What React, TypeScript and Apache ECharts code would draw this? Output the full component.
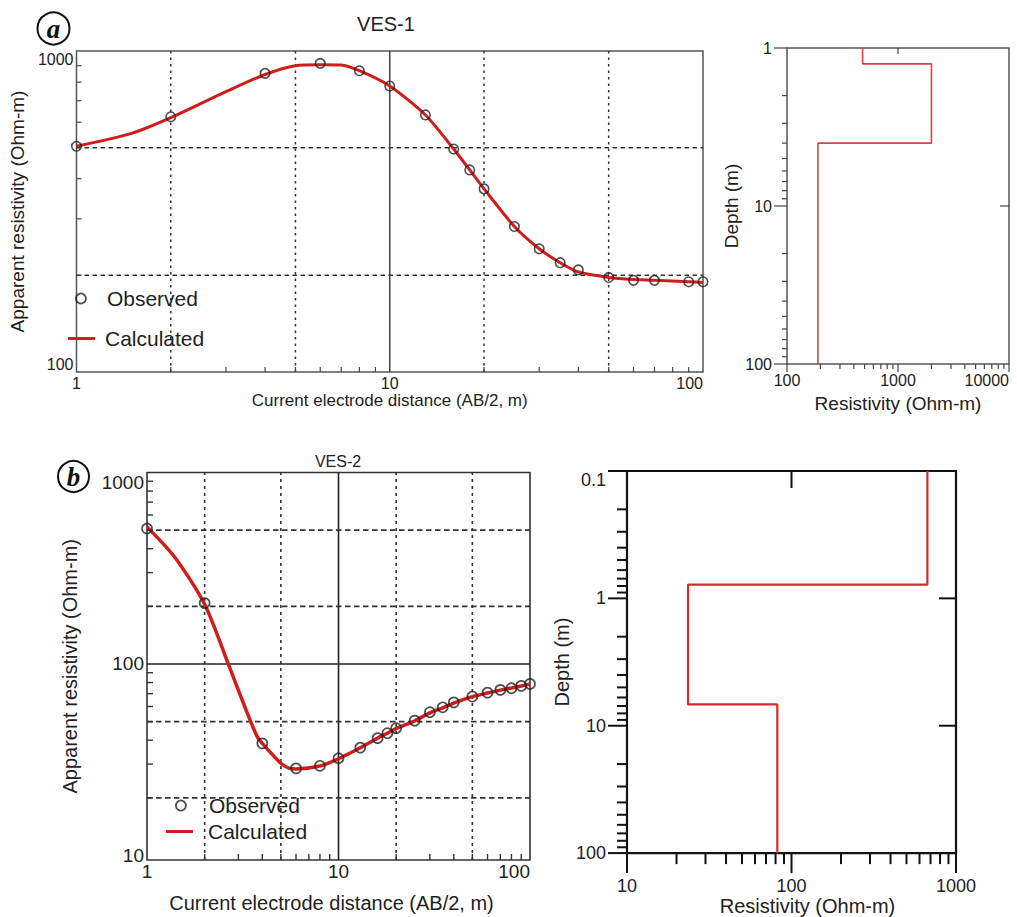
import React, { useEffect, useRef } from 'react';
import * as echarts from 'echarts';

// ---------- VES-1 (panel a) ----------
const ves1ObsAB2 = [1, 2, 4, 6, 8, 10, 13, 16, 18, 20, 25, 30, 35, 40, 50, 60, 70, 90, 100];
const ves1ObsRho = [505, 624, 852, 915, 868, 778, 632, 495, 426, 372, 284, 242, 219, 208, 197, 193, 193, 191, 191];
const ves1CalcAB2 = [1, 1.5, 2, 3, 4, 5, 6, 7, 8, 10, 13, 16, 18, 20, 25, 30, 35, 40, 50, 60, 70, 90, 100];
const ves1CalcRho = [505, 554, 620, 747, 845, 900, 906, 905, 868, 778, 632, 495, 426, 372, 284, 242, 219, 205, 197, 194, 193, 191, 190];
const ves1LayerRho = [480, 2000, 190];
const ves1LayerBottom = [1.26, 4];
const ves1DepthRange = [1, 100];
const ves1ResRange = [100, 10000];
const ves1AB2Range = [1, 100];
const ves1RhoRange = [100, 1000];
const ves1GridX = [2, 5, 20, 50];
const ves1GridXSolid = [10];
const ves1GridY = [200, 500];
const ves1MinorX = [2, 3, 4, 5, 6, 7, 8, 9, 20, 30, 40, 50, 60, 70, 80, 90];
const ves1MinorY = [200, 300, 400, 500, 600, 700, 800, 900];
const mod1MajorY = [1, 10, 100];
const mod1MinorY = [2, 3, 4, 5, 6, 7, 8, 9, 20, 30, 40, 50, 60, 70, 80, 90];
const mod1MajorX = [100, 1000, 10000];
const mod1MinorX = [200, 300, 400, 500, 600, 700, 800, 900, 2000, 3000, 4000, 5000, 6000, 7000, 8000, 9000];
const mod1TopTicks = [1000];
const mod1RightTicks = [10];

// ---------- VES-2 (panel b) ----------
const ves2ObsAB2 = [1, 2, 4, 6, 8, 10, 13, 16, 18, 20, 25, 30, 35, 40, 50, 60, 70, 80, 90, 100];
const ves2ObsRho = [510, 208, 38.5, 28.5, 29.4, 32.2, 36.6, 41, 43.5, 46.2, 50.6, 56, 59.4, 63, 67.6, 70.9, 73.2, 74.7, 76.8, 78.7];
const ves2CalcAB2 = [1, 1.4, 2, 2.7, 3.3, 3.75, 4, 5, 5.5, 6, 8, 10, 13, 16, 18, 20, 25, 30, 35, 40, 50, 60, 70, 80, 90, 100];
const ves2CalcRho = [520, 360, 205, 96, 57, 42, 38.5, 30.3, 28.6, 28.3, 29.3, 32, 36.5, 41, 43.5, 46, 50.5, 55.5, 59, 62.5, 67.5, 70.5, 73, 75, 76.8, 78.5];
const ves2LayerRho = [670, 23.5, 82];
const ves2LayerBottom = [0.78, 6.8];
const ves2DepthRange = [0.1, 100];
const ves2ResRange = [10, 1000];
const ves2AB2Range = [1, 100];
const ves2RhoRange = [9.47, 1000];
const ves2GridX = [2, 5, 20, 50];
const ves2GridXSolid = [10];
const ves2GridY = [20, 50, 200, 500];
const ves2GridYSolid = [100];
const ves2MinorX = [2, 3, 4, 5, 6, 7, 8, 9, 20, 30, 40, 50, 60, 70, 80, 90];
const ves2MinorY = [20, 30, 40, 50, 60, 70, 80, 90, 200, 300, 400, 500, 600, 700, 800, 900];
const mod2MajorY = [0.1, 1, 10, 100];
const mod2MinorY = [0.2, 0.3, 0.4, 0.5, 0.6, 0.7, 0.8, 0.9, 2, 3, 4, 5, 6, 7, 8, 9, 20, 30, 40, 50, 60, 70, 80, 90];
const mod2MajorX = [10, 100, 1000];
const mod2MinorX = [20, 30, 40, 50, 60, 70, 80, 90, 200, 300, 400, 500, 600, 700, 800, 900];
const mod2TopTicks = [100];
const mod2RightTicks = [1, 10];

const FONT = '"Liberation Sans", Arial, Helvetica, sans-serif';
const RED = '#d01c1c';

const zip = (xs: number[], ys: number[]) => xs.map((x, i) => [x, ys[i]]);

const pow10Label = (v: number) => {
  const l = Math.log10(v);
  const r = Math.round(l);
  if (Math.abs(l - r) > 1e-6) return '';
  return r < 0 ? Math.pow(10, r).toFixed(-r) : String(Math.round(Math.pow(10, r)));
};

function layerPath(rho: number[], bottoms: number[], range: number[]) {
  const tops = [range[0], ...bottoms];
  const bots = [...bottoms, range[1]];
  const pts: number[][] = [];
  rho.forEach((r, i) => {
    pts.push([r, tops[i]], [r, bots[i]]);
  });
  return pts;
}

function logAxis(o: any) {
  return {
    type: 'log',
    logBase: 10,
    gridIndex: o.grid,
    min: o.min,
    max: o.max,
    inverse: !!o.inverse,
    name: o.name,
    nameLocation: 'middle',
    nameGap: o.nameGap,
    nameTextStyle: { fontSize: o.nameSize, color: '#222', fontFamily: FONT, padding: o.namePadding || 0 },
    axisLine: { show: false },
    axisTick: { show: false },
    splitLine: { show: false },
    minorTick: { show: false },
    minorSplitLine: { show: false },
    axisLabel: {
      show: true,
      margin: o.margin,
      fontSize: o.labelSize,
      color: '#222',
      fontFamily: FONT,
      formatter: pow10Label,
      ...(o.labelExtra || {}),
    },
  };
}

function tickSeries(idx: number, pts: number[][], dx: number, dy: number, color: string, width: number) {
  return {
    type: 'custom',
    xAxisIndex: idx,
    yAxisIndex: idx,
    silent: true,
    z: 6,
    clip: false,
    data: pts,
    renderItem: (_p: any, api: any) => {
      const c = api.coord([api.value(0), api.value(1)]);
      return {
        type: 'line',
        shape: { x1: c[0], y1: c[1], x2: c[0] + dx, y2: c[1] + dy },
        style: { stroke: color, lineWidth: width },
      };
    },
  };
}

function vGrid(idx: number, xs: number[], yRange: number[], color: string, width: number, dash: number[] | null) {
  return {
    type: 'custom',
    xAxisIndex: idx,
    yAxisIndex: idx,
    silent: true,
    z: 1,
    data: xs.map((x) => [x, yRange[0]]),
    renderItem: (_p: any, api: any) => {
      const x = api.value(0);
      const a = api.coord([x, yRange[0]]);
      const b = api.coord([x, yRange[1]]);
      return {
        type: 'line',
        shape: { x1: a[0], y1: a[1], x2: b[0], y2: b[1] },
        style: { stroke: color, lineWidth: width, lineDash: dash || undefined },
      };
    },
  };
}

function hGrid(idx: number, ys: number[], xRange: number[], color: string, width: number, dash: number[] | null) {
  return {
    type: 'custom',
    xAxisIndex: idx,
    yAxisIndex: idx,
    silent: true,
    z: 1,
    data: ys.map((y) => [xRange[0], y]),
    renderItem: (_p: any, api: any) => {
      const y = api.value(1);
      const a = api.coord([xRange[0], y]);
      const b = api.coord([xRange[1], y]);
      return {
        type: 'line',
        shape: { x1: a[0], y1: a[1], x2: b[0], y2: b[1] },
        style: { stroke: color, lineWidth: width, lineDash: dash || undefined },
      };
    },
  };
}

function buildOption() {
  const legendObs = (left: number, top: number, pad: number) => ({
    left,
    top,
    padding: 0,
    orient: 'vertical',
    selectedMode: false,
    itemWidth: 10,
    itemHeight: 10,
    textStyle: { fontSize: 21, color: '#222', fontFamily: FONT, padding: [0, 0, 0, pad] },
    data: [{ name: 'Observed', icon: 'circle', itemStyle: { color: 'rgba(0,0,0,0)', borderColor: '#222', borderWidth: 1.8 } }],
  });
  const legendCalc = (left: number, top: number, pad: number) => ({
    left,
    top,
    padding: 0,
    orient: 'vertical',
    selectedMode: false,
    itemWidth: 27,
    itemHeight: 3,
    textStyle: { fontSize: 21, color: '#222', fontFamily: FONT, padding: [0, 0, 0, pad] },
    data: [{ name: 'Calculated', icon: 'rect', itemStyle: { color: RED, borderWidth: 0 } }],
  });

  return {
    animation: false,
    backgroundColor: '#ffffff',
    textStyle: { fontFamily: FONT },
    title: [
      { text: 'VES-1', left: 386, top: 14, textAlign: 'center', padding: 0, textStyle: { fontSize: 20, fontWeight: 'normal', color: '#222', fontFamily: FONT } },
      { text: 'VES-2', left: 338, top: 453, textAlign: 'center', padding: 0, textStyle: { fontSize: 16, fontWeight: 'normal', color: '#222', fontFamily: FONT } },
    ],
    legend: [legendObs(75, 288, 16), legendCalc(68, 328, 5), legendObs(175, 795, 18), legendCalc(166, 821, 10)],
    grid: [
      { left: 60, top: 51, width: 643, height: 321, show: true, borderColor: '#555', borderWidth: 1.5, backgroundColor: 'transparent' },
      { left: 787, top: 48, width: 222, height: 316, show: true, borderColor: '#555', borderWidth: 1.5, backgroundColor: 'transparent' },
      { left: 147, top: 472.5, width: 383, height: 387.5, show: true, borderColor: '#333', borderWidth: 1.6, backgroundColor: 'transparent' },
      { left: 627, top: 471, width: 329, height: 386, show: true, borderColor: '#111', borderWidth: 2.2, backgroundColor: 'transparent' },
    ],
    xAxis: [
      logAxis({ grid: 0, min: ves1AB2Range[0], max: ves1AB2Range[1], name: 'Current electrode distance (AB/2, m)', nameGap: 17, nameSize: 17, margin: 3, labelSize: 16, labelExtra: { alignMaxLabel: 'right' } }),
      logAxis({ grid: 1, min: ves1ResRange[0], max: ves1ResRange[1], name: 'Resistivity (Ohm-m)', nameGap: 30, nameSize: 19, margin: 8, labelSize: 16, labelExtra: { alignMaxLabel: 'right' } }),
      logAxis({ grid: 2, min: ves2AB2Range[0], max: ves2AB2Range[1], name: 'Current electrode distance (AB/2, m)', nameGap: 33, nameSize: 20, namePadding: [0, 14, 0, 0], margin: 2, labelSize: 19, labelExtra: { alignMaxLabel: 'right' } }),
      logAxis({ grid: 3, min: ves2ResRange[0], max: ves2ResRange[1], name: 'Resistivity (Ohm-m)', nameGap: 42, nameSize: 20, namePadding: [0, 0, 0, 32], margin: 24, labelSize: 18 }),
    ],
    yAxis: [
      logAxis({ grid: 0, min: ves1RhoRange[0], max: ves1RhoRange[1], name: 'Apparent resistivity (Ohm-m)', nameGap: 29, nameSize: 19, margin: 3, labelSize: 16, labelExtra: { verticalAlignMaxLabel: 'top', verticalAlignMinLabel: 'bottom' } }),
      logAxis({ grid: 1, min: ves1DepthRange[0], max: ves1DepthRange[1], inverse: true, name: 'Depth (m)', nameGap: 35, nameSize: 19, margin: 15, labelSize: 16 }),
      logAxis({ grid: 2, min: ves2RhoRange[0], max: ves2RhoRange[1], name: 'Apparent resistivity (Ohm-m)', nameGap: 67, nameSize: 20, margin: 3, labelSize: 19, labelExtra: { verticalAlignMaxLabel: 'top' } }),
      logAxis({ grid: 3, min: ves2DepthRange[0], max: ves2DepthRange[1], inverse: true, name: 'Depth (m)', nameGap: 52, nameSize: 20, margin: 21, labelSize: 18, labelExtra: { verticalAlignMinLabel: 'top' } }),
    ],
    graphic: [
      { type: 'circle', shape: { cx: 53.5, cy: 28.5, r: 16 }, style: { fill: 'none', stroke: '#111', lineWidth: 2 } },
      { type: 'text', x: 53.5, y: 29, style: { text: 'a', font: 'italic bold 27px "Liberation Serif", "DejaVu Serif", serif', fill: '#111', align: 'center', verticalAlign: 'middle', textAlign: 'center', textVerticalAlign: 'middle' } },
      { type: 'circle', shape: { cx: 73.5, cy: 476.5, r: 15.5 }, style: { fill: 'none', stroke: '#111', lineWidth: 2 } },
      { type: 'text', x: 73.5, y: 476.5, style: { text: 'b', font: 'italic bold 27px "Liberation Serif", "DejaVu Serif", serif', fill: '#111', align: 'center', verticalAlign: 'middle', textAlign: 'center', textVerticalAlign: 'middle' } },
    ],
    series: [
      // ----- panel a -----
      vGrid(0, ves1GridX, ves1RhoRange, '#333', 1.5, [2.5, 4]),
      vGrid(0, ves1GridXSolid, ves1RhoRange, '#444', 1.5, null),
      hGrid(0, ves1GridY, ves1AB2Range, '#333', 1.5, [4.5, 3.5]),
      tickSeries(0, ves1MinorX.map((v) => [v, ves1RhoRange[0]]), 0, -5, '#444', 1.2),
      tickSeries(0, ves1MinorY.map((v) => [ves1AB2Range[0], v]), 5, 0, '#444', 1.2),
      {
        name: 'Calculated',
        type: 'line',
        xAxisIndex: 0,
        yAxisIndex: 0,
        data: zip(ves1CalcAB2, ves1CalcRho),
        showSymbol: false,
        symbol: 'none',
        smooth: 0.25,
        z: 3,
        itemStyle: { color: RED },
        lineStyle: { color: RED, width: 3 },
      },
      {
        name: 'Observed',
        type: 'scatter',
        xAxisIndex: 0,
        yAxisIndex: 0,
        data: zip(ves1ObsAB2, ves1ObsRho),
        symbol: 'circle',
        symbolSize: 9.5,
        z: 4,
        itemStyle: { color: 'rgba(0,0,0,0)', borderColor: '#222', borderWidth: 1.6 },
      },
      // ----- panel a model -----
      tickSeries(1, mod1MajorY.map((v) => [ves1ResRange[0], v]), -13, 0, '#444', 1.2),
      tickSeries(1, mod1MinorY.map((v) => [ves1ResRange[0], v]), -5, 0, '#444', 1.2),
      tickSeries(1, mod1MajorX.map((v) => [v, ves1DepthRange[1]]), 0, 8, '#444', 1.2),
      tickSeries(1, mod1MinorX.map((v) => [v, ves1DepthRange[1]]), 0, 5, '#444', 1.2),
      tickSeries(1, mod1TopTicks.map((v) => [v, ves1DepthRange[0]]), 0, 6, '#444', 1.2),
      tickSeries(1, mod1RightTicks.map((v) => [ves1ResRange[1], v]), -9, 0, '#444', 1.2),
      {
        type: 'line',
        xAxisIndex: 1,
        yAxisIndex: 1,
        data: layerPath(ves1LayerRho, ves1LayerBottom, ves1DepthRange),
        showSymbol: false,
        symbol: 'none',
        z: 3,
        lineStyle: { color: '#d64545', width: 1.6 },
        itemStyle: { color: '#d64545' },
      },
      // ----- panel b -----
      vGrid(2, ves2GridX, ves2RhoRange, '#333', 1.6, [3, 4]),
      vGrid(2, ves2GridXSolid, ves2RhoRange, '#222', 1.6, null),
      hGrid(2, ves2GridY, ves2AB2Range, '#333', 1.6, [5.5, 3.5]),
      hGrid(2, ves2GridYSolid, ves2AB2Range, '#222', 1.6, null),
      tickSeries(2, ves2MinorX.map((v) => [v, ves2RhoRange[0]]), 0, -6, '#333', 1.4),
      tickSeries(2, ves2MinorY.map((v) => [ves2AB2Range[0], v]), 6, 0, '#333', 1.4),
      {
        name: 'Calculated',
        type: 'line',
        xAxisIndex: 2,
        yAxisIndex: 2,
        data: zip(ves2CalcAB2, ves2CalcRho),
        showSymbol: false,
        symbol: 'none',
        smooth: 0.25,
        z: 3,
        itemStyle: { color: RED },
        lineStyle: { color: RED, width: 3.5 },
      },
      {
        name: 'Observed',
        type: 'scatter',
        xAxisIndex: 2,
        yAxisIndex: 2,
        data: zip(ves2ObsAB2, ves2ObsRho),
        symbol: 'circle',
        symbolSize: 10,
        z: 4,
        itemStyle: { color: 'rgba(0,0,0,0)', borderColor: '#222', borderWidth: 1.7 },
      },
      // ----- panel b model -----
      tickSeries(3, mod2MajorY.map((v) => [ves2ResRange[0], v]), -19, 0, '#111', 2),
      tickSeries(3, mod2MinorY.map((v) => [ves2ResRange[0], v]), -10, 0, '#111', 2),
      tickSeries(3, mod2MajorX.map((v) => [v, ves2DepthRange[1]]), 0, 20, '#111', 2),
      tickSeries(3, mod2MinorX.map((v) => [v, ves2DepthRange[1]]), 0, 11, '#111', 2),
      tickSeries(3, mod2TopTicks.map((v) => [v, ves2DepthRange[0]]), 0, 17, '#111', 2),
      tickSeries(3, mod2RightTicks.map((v) => [ves2ResRange[1], v]), -17, 0, '#111', 2),
      {
        type: 'line',
        xAxisIndex: 3,
        yAxisIndex: 3,
        data: layerPath(ves2LayerRho, ves2LayerBottom, ves2DepthRange),
        showSymbol: false,
        symbol: 'none',
        z: 3,
        lineStyle: { color: '#d42a2a', width: 2.2 },
        itemStyle: { color: '#d42a2a' },
      },
    ],
  };
}

export default function App() {
  const ref = useRef<HTMLDivElement>(null);
  useEffect(() => {
    document.body.style.margin = '0';
    const chart = echarts.init(ref.current as HTMLDivElement, null, { renderer: 'svg' });
    chart.setOption(buildOption() as any);
    return () => chart.dispose();
  }, []);
  return <div ref={ref} style={{ position: 'absolute', left: 0, top: 0, width: 1017, height: 917 }} />;
}
